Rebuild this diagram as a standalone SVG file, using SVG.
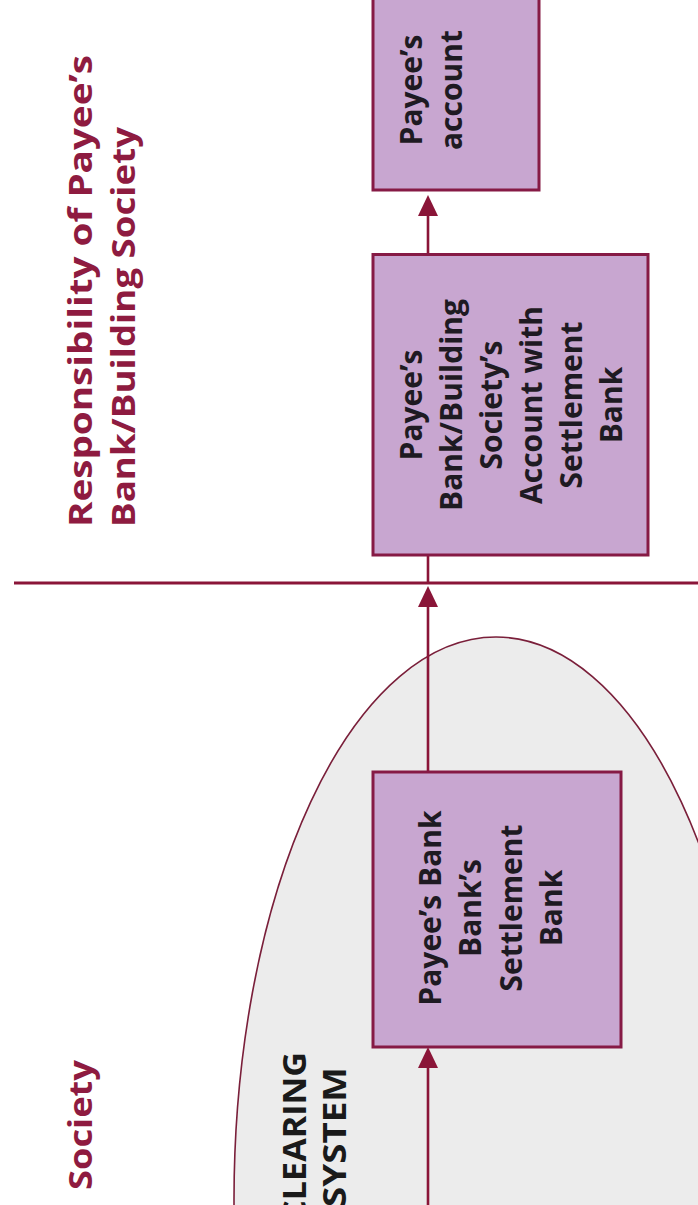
<svg xmlns="http://www.w3.org/2000/svg" width="698" height="1205" viewBox="0 0 698 1205">
<defs>
<style>
.title{font-family:"Open Sans","Liberation Sans",sans-serif;font-weight:700;font-size:32px;fill:#8e1b40}
.box{fill:#c8a6d0;stroke:#861a45;stroke-width:3}
.lbl{font-family:"Open Sans","Liberation Sans",sans-serif;font-weight:700;font-size:30px;fill:#1e1a22;text-anchor:middle}
.sys{font-family:"Open Sans","Liberation Sans",sans-serif;font-weight:700;font-size:33px;fill:#1a1a1a;text-anchor:middle}
.conn{stroke:#8a1538;stroke-width:2.6;fill:none}
</style>
<marker id="ah" markerUnits="userSpaceOnUse" markerWidth="21" markerHeight="21" refX="0" refY="10" orient="auto" viewBox="0 0 21 20">
<path d="M0,0 L21,10 L0,20 Z" fill="#8a1538"/>
</marker>
</defs>
<rect x="0" y="0" width="698" height="1205" fill="#ffffff"/>
<g id="clearing-system">
<ellipse cx="496" cy="1200" rx="262" ry="563" fill="#ececec" stroke="#7a1f3a" stroke-width="1.6"/>
<text class="sys" transform="rotate(-90)"><tspan x="-1137" y="306" textLength="170" lengthAdjust="spacingAndGlyphs">CLEARING</tspan><tspan x="-1137" y="346" textLength="140" lengthAdjust="spacingAndGlyphs">SYSTEM</tspan></text>
</g>
<g id="titles">
<text class="title" transform="translate(92,527) rotate(-90)" textLength="472" lengthAdjust="spacingAndGlyphs">Responsibility of Payee’s</text>
<text class="title" transform="translate(135,527) rotate(-90)" textLength="400" lengthAdjust="spacingAndGlyphs">Bank/Building Society</text>
<text class="title" transform="translate(92,1190) rotate(-90)" textLength="130" lengthAdjust="spacingAndGlyphs">Society</text>
</g>
<g id="divider">
<line x1="14" y1="583" x2="698" y2="583" stroke="#8a1538" stroke-width="3"/>
</g>
<g id="connectors">
<line class="conn" x1="428" y1="1205" x2="428" y2="1068" marker-end="url(#ah)"/>
<line class="conn" x1="428" y1="772" x2="428" y2="607" marker-end="url(#ah)"/>
<line class="conn" x1="428" y1="583" x2="428" y2="555"/>
<line class="conn" x1="428" y1="254" x2="428" y2="216" marker-end="url(#ah)"/>
</g>
<g id="payee-account">
<rect class="box" x="373" y="-2" width="166" height="192"/>
<text class="lbl" transform="rotate(-90)"><tspan x="-90" y="422">Payee’s</tspan><tspan x="-90" y="462">account</tspan></text>
</g>
<g id="payee-bank-account-with-settlement-bank">
<rect class="box" x="373" y="254.5" width="275" height="300.5"/>
<text class="lbl" transform="rotate(-90)"><tspan x="-405" y="422">Payee’s</tspan><tspan x="-405" y="462">Bank/Building</tspan><tspan x="-405" y="502">Society’s</tspan><tspan x="-405" y="542">Account with</tspan><tspan x="-405" y="582">Settlement</tspan><tspan x="-405" y="622">Bank</tspan></text>
</g>
<g id="payee-bank-settlement-bank">
<rect class="box" x="373" y="772" width="248" height="275"/>
<text class="lbl" transform="rotate(-90)"><tspan x="-908" y="441">Payee’s Bank</tspan><tspan x="-908" y="481">Bank’s</tspan><tspan x="-908" y="522">Settlement</tspan><tspan x="-908" y="562">Bank</tspan></text>
</g>
</svg>
